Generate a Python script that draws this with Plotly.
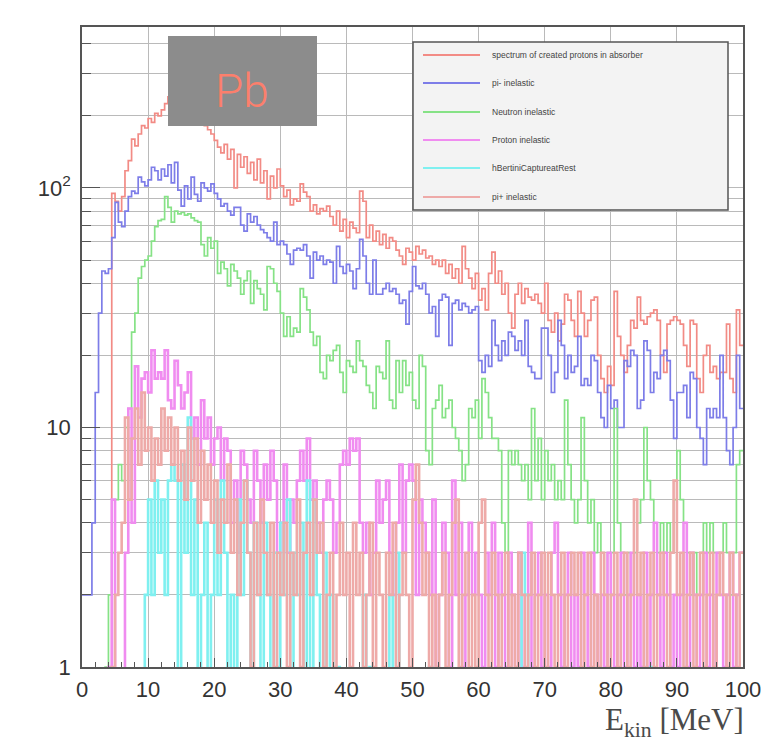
import plotly.graph_objects as go

# ---------------- data (0.5 MeV bins, 0..100 MeV) ----------------
BIN_WIDTH = 0.5
N_BINS = 200

series_names = [
    "spectrum of created protons in absorber",
    "pi- inelastic",
    "Neutron inelastic",
    "Proton inelastic",
    "hBertiniCaptureatRest",
    "pi+ inelastic",
]

spectrum_total = [
    0, 0, 0, 0, 0, 0, 0, 0, 0, 95,
    88, 80, 92, 118, 130, 160, 150, 168, 182, 178,
    195, 188, 205, 200, 212, 225, 240, 250, 262, 275,
    258, 280, 245, 265, 230, 215, 190, 182, 175, 168,
    158, 148, 140, 152, 132, 145, 100, 138, 122, 135,
    115, 128, 108, 132, 105, 118, 90, 112, 100, 120,
    102, 92, 98, 85, 90, 88, 104, 96, 92, 80,
    85, 78, 82, 80, 84, 76, 70, 80, 66, 74,
    62, 72, 68, 65, 97, 88, 62, 70, 60, 66,
    58, 64, 56, 62, 60, 55, 52, 48, 56, 54,
    50, 57, 53, 55, 51, 52, 48, 50, 47, 50,
    44, 48, 42, 46, 40, 57, 46, 42, 38, 44,
    34, 38, 31, 44, 54, 40, 45, 36, 40, 30,
    26, 36, 40, 33, 38, 35, 34, 36, 33, 30,
    40, 28, 25, 30, 23, 27, 36, 34, 28, 24,
    37, 30, 24, 28, 34, 35, 20, 16, 14, 18,
    15, 37, 24, 20, 17, 22, 28, 26, 35, 28,
    27, 29, 30, 31, 28, 20, 17, 27, 28, 29,
    28, 27, 22, 18, 28, 27, 16, 14, 20, 22,
    17, 18, 16, 17, 17, 27, 16, 14, 31, 22,
]

pim_inelastic = [
    2, 2, 2, 4, 14, 30, 45, 44, 46, 62,
    87, 72, 69, 80, 92, 97, 95, 111, 106, 102,
    108, 122, 118, 108, 120, 112, 125, 105, 128, 98,
    84, 102, 90, 111, 94, 88, 105, 100, 97, 104,
    95, 90, 84, 86, 80, 77, 83, 83, 70, 66,
    78, 72, 76, 70, 67, 65, 62, 60, 72, 58,
    60, 58, 53, 48, 55, 56, 55, 58, 52, 42,
    54, 50, 52, 48, 50, 49, 40, 57, 47, 44,
    48, 45, 38, 46, 61, 52, 40, 36, 50, 36,
    36, 38, 40, 37, 38, 36, 33, 34, 27, 37,
    47, 39, 38, 40, 36, 30, 32, 24, 34, 36,
    35, 22, 33, 34, 31, 33, 32, 30, 31, 32,
    19, 17, 20, 18, 28, 22, 19, 23, 20, 25,
    24, 21, 23, 20, 28, 18, 17, 16, 16, 26,
    26, 20, 14, 17, 28, 22, 16, 20, 17, 18,
    24, 15, 16, 15, 20, 19, 14, 11, 10, 15,
    12, 13, 10, 10, 19, 18, 21, 20, 12, 13,
    23, 21, 14, 17, 16, 20, 21, 19, 13, 9,
    14, 14, 15, 11, 17, 16, 10, 9, 7, 12,
    11, 12, 11, 20, 11, 8, 7, 10, 20, 12,
]

neutron_inelastic = [
    0, 0, 0, 0, 0, 0, 0, 1, 2, 3,
    5, 7, 6, 10, 12, 25, 30, 42, 47, 50,
    52, 60, 69, 73, 74, 92, 83, 72, 80, 78,
    79, 77, 78, 75, 73, 72, 58, 52, 62, 56,
    60, 44, 49, 46, 39, 48, 45, 42, 36, 41,
    45, 33, 41, 38, 36, 31, 47, 46, 40, 37,
    30, 24, 29, 24, 26, 25, 38, 35, 31, 25,
    22, 24, 17, 16, 20, 19, 21, 22, 17, 14,
    19, 18, 17, 23, 19, 18, 15, 14, 12, 18,
    17, 16, 23, 13, 12, 19, 14, 19, 15, 17,
    13, 12, 20, 18, 8, 7, 12, 13, 15, 11,
    12, 13, 10, 9, 8, 6, 7, 12, 11, 13,
    9, 16, 14, 11, 9, 9, 8, 4, 3, 8,
    7, 8, 7, 6, 7, 5, 12, 6, 9, 5,
    8, 6, 7, 5, 6, 5, 13, 7, 5, 4,
    5, 11, 6, 4, 5, 3, 4, 3, 2, 3,
    3, 12, 4, 3, 2, 3, 2, 3, 4, 5,
    10, 6, 5, 4, 3, 4, 3, 4, 3, 5,
    8, 5, 4, 3, 2, 3, 2, 3, 4, 3,
    4, 3, 3, 3, 4, 3, 2, 3, 7, 8,
]

proton_inelastic = [
    0, 0, 0, 0, 0, 0, 0, 0, 1, 5,
    0, 0, 0, 3, 12, 4, 18, 11, 16, 17,
    14, 21, 16, 17, 16, 21, 13, 12, 19, 15,
    12, 14, 17, 9, 11, 7, 13, 9, 11, 7,
    9, 10, 6, 9, 8, 4, 6, 3, 8, 7,
    5, 4, 8, 6, 4, 7, 5, 8, 6, 3,
    4, 7, 3, 5, 4, 6, 8, 6, 9, 5,
    6, 4, 3, 5, 6, 5, 3, 4, 7, 8,
    7, 9, 8, 9, 4, 3, 4, 2, 3, 6,
    4, 5, 6, 3, 2, 4, 7, 3, 6, 7,
    6, 2, 5, 4, 3, 2, 5, 1, 2, 4,
    3, 1, 6, 2, 4, 1, 2, 4, 2, 3,
    2, 1, 3, 2, 4, 1, 3, 2, 1, 3,
    2, 1, 3, 1, 2, 4, 1, 2, 3, 1,
    2, 1, 3, 4, 2, 1, 2, 3, 1, 2,
    1, 3, 2, 1, 3, 2, 1, 2, 1, 3,
    2, 1, 2, 3, 1, 2, 3, 1, 2, 1,
    3, 1, 2, 4, 2, 1, 3, 2, 1, 2,
    1, 2, 4, 1, 3, 2, 1, 2, 3, 1,
    2, 1, 3, 2, 1, 2, 3, 1, 2, 3,
]

bertini_capture = [
    0, 0, 0, 0, 0, 0, 0, 0, 0, 0,
    0, 0, 0, 0, 0, 0, 0, 0, 0, 2,
    5, 2, 6, 3, 5, 2, 6, 7, 6, 0,
    7, 3, 11, 2, 5, 0, 2, 4, 0, 2,
    5, 2, 6, 3, 0, 2, 0, 5, 2, 6,
    3, 0, 4, 2, 0, 4, 2, 0, 3, 1,
    4, 2, 5, 0, 3, 2, 4, 0, 6, 0,
    5, 2, 0, 3, 0, 2, 0, 1, 0, 0,
    0, 0, 0, 0, 0, 2, 0, 1, 0, 0,
    0, 0, 0, 2, 0, 3, 0, 0, 0, 0,
    0, 0, 0, 0, 0, 1, 0, 0, 0, 0,
    0, 0, 0, 0, 0, 0, 0, 0, 0, 0,
    0, 0, 0, 0, 0, 0, 0, 0, 0, 0,
    0, 0, 0, 3, 2, 0, 0, 0, 0, 0,
    0, 0, 0, 0, 0, 0, 0, 0, 0, 0,
    0, 0, 0, 0, 0, 0, 0, 0, 0, 0,
    0, 0, 0, 0, 0, 0, 0, 0, 0, 0,
    0, 0, 1, 0, 0, 0, 0, 0, 0, 0,
    0, 0, 0, 0, 0, 0, 0, 0, 0, 0,
    0, 0, 0, 0, 0, 0, 0, 0, 0, 0,
]

pip_inelastic = [
    0, 0, 0, 0, 0, 0, 0, 0, 0, 1,
    2, 3, 4, 11, 5, 9, 12, 7, 14, 8,
    10, 6, 9, 7, 12, 8, 11, 7, 10, 6,
    8, 5, 10, 6, 9, 4, 8, 5, 7, 4,
    6, 3, 5, 4, 7, 3, 5, 2, 4, 6,
    3, 1, 4, 2, 5, 3, 2, 4, 1, 3,
    2, 4, 1, 3, 2, 5, 1, 3, 4, 2,
    5, 3, 4, 1, 2, 3, 1, 2, 4, 2,
    3, 1, 4, 2, 3, 1, 2, 4, 1, 3,
    2, 1, 3, 2, 4, 1, 2, 3, 2, 1,
    5, 7, 4, 2, 3, 1, 2, 1, 2, 3,
    1, 2, 4, 5, 1, 2, 3, 1, 2, 1,
    4, 5, 2, 1, 3, 2, 1, 2, 3, 1,
    2, 1, 3, 2, 1, 2, 3, 1, 2, 3,
    1, 3, 2, 1, 2, 3, 1, 2, 3, 2,
    3, 1, 2, 3, 1, 2, 1, 3, 2, 1,
    2, 3, 1, 2, 3, 1, 2, 5, 2, 3,
    1, 2, 3, 1, 2, 3, 2, 1, 3, 6,
    2, 3, 1, 2, 3, 1, 2, 3, 1, 2,
    3, 1, 2, 3, 2, 1, 3, 2, 1, 3,
]

x_tick_vals = [0, 10, 20, 30, 40, 50, 60, 70, 80, 90, 100]
y_major_vals = [1, 10, 100]
y_major_text = ["1", "10", "10<sup>2</sup>"]
y_minor_vals = [2, 3, 4, 5, 6, 7, 8, 9, 20, 30, 40, 50, 60, 70, 80, 90, 200, 300, 400]

colors = ["#f28b85", "#7d7de8", "#86e286", "#f08cf0", "#7ff0f0", "#eeaaa8"]
widths = [1.7, 1.7, 1.7, 2.6, 2.6, 2.6]
all_series = [spectrum_total, pim_inelastic, neutron_inelastic,
              proton_inelastic, bertini_capture, pip_inelastic]

# ---------------- geometry (reference page pixels) ----------------
PAGE_W, PAGE_H = 780, 743
BODY = 8                      # browser default body margin
L, R, T, B = 82, 743, 27, 667  # plot area on the page


def px_x(p):
    return (p - L) / (R - L)


def px_y(p):
    return (B - p) / (B - T)


edges = [i * BIN_WIDTH for i in range(N_BINS + 1)]

fig = go.Figure()
for name, vals, col, w in zip(series_names, all_series, colors, widths):
    yv = [v if v > 0 else 0.05 for v in vals]
    yv = yv + [yv[-1]]
    fig.add_trace(go.Scatter(
        x=edges, y=yv, mode="lines", name=name,
        line=dict(color=col, width=w, shape="hv"),
        showlegend=False, hoverinfo="skip",
    ))

axis_font = dict(family="Liberation Sans, Arial, sans-serif", size=22, color="#333333")
GRID = "#bababa"

fig.update_layout(
    width=PAGE_W - BODY, height=PAGE_H - BODY,
    margin=dict(l=L - BODY, r=PAGE_W - R, t=T - BODY, b=PAGE_H - B, autoexpand=False),
    paper_bgcolor="white", plot_bgcolor="white",
    showlegend=False,
    xaxis=dict(
        range=[0, 100], tickvals=x_tick_vals, ticktext=[str(v) for v in x_tick_vals],
        ticks="inside", ticklen=9, tickcolor="#555555", tickwidth=1,
        showgrid=True, gridcolor=GRID, gridwidth=1.2,
        showline=True, linecolor="#555555", linewidth=1.5, mirror=True,
        minor=dict(dtick=2, ticks="inside", ticklen=5, tickcolor="#555555", showgrid=False),
        tickfont=axis_font, zeroline=False, ticklabelstandoff=2,
    ),
    yaxis=dict(
        type="log", range=[0, 2.672],
        tickvals=y_major_vals, ticktext=y_major_text,
        ticks="inside", ticklen=18, tickcolor="#555555", tickwidth=1,
        showgrid=True, gridcolor=GRID, gridwidth=1.2,
        showline=True, linecolor="#555555", linewidth=1.5, mirror=True,
        minor=dict(tickvals=y_minor_vals, ticks="inside", ticklen=9,
                   tickcolor="#555555", showgrid=True, gridcolor=GRID, gridwidth=1.2),
        tickfont=axis_font, zeroline=False, ticklabelstandoff=5,
    ),
)

shapes = []
annotations = []

# Pb label box
shapes.append(dict(type="rect", xref="paper", yref="paper",
                   x0=px_x(168), x1=px_x(317), y0=px_y(126), y1=px_y(36),
                   fillcolor="#8c8c8c", line=dict(width=0), layer="above"))
annotations.append(dict(xref="paper", yref="paper", x=px_x(242), y=px_y(91),
                        text="Pb", showarrow=False, xanchor="center", yanchor="middle",
                        font=dict(family="Roboto, Lato, sans-serif", size=46,
                                  color="#fc7f6c", weight=300)))

# legend box
shapes.append(dict(type="rect", xref="paper", yref="paper",
                   x0=px_x(413), x1=px_x(728), y0=px_y(210), y1=px_y(42),
                   fillcolor="#f3f3f3", line=dict(color="#555555", width=1.5), layer="above"))
legend_y = [55, 83, 112, 140, 168, 197]
for name, col, ly in zip(series_names, colors, legend_y):
    shapes.append(dict(type="line", xref="paper", yref="paper",
                       x0=px_x(423), x1=px_x(480), y0=px_y(ly), y1=px_y(ly),
                       line=dict(color=col, width=1.8), layer="above"))
    annotations.append(dict(xref="paper", yref="paper", x=px_x(490), y=px_y(ly),
                            text=name, showarrow=False, xanchor="left", yanchor="middle",
                            font=dict(family="Liberation Sans, Arial, sans-serif", size=8.5,
                                      color="#444444")))

# x axis title
annotations.append(dict(xref="paper", yref="paper", x=px_x(746), y=px_y(722),
                        text="E<sub>kin</sub> [MeV]", showarrow=False,
                        xanchor="right", yanchor="middle",
                        font=dict(family="Liberation Serif, Times New Roman, serif",
                                  size=31, color="#4a4a4a")))
# cropped title remnant at the very top edge (as in the reference)
annotations.append(dict(xref="paper", yref="paper", x=px_x(782), y=px_y(13),
                        text="E<sub>kin</sub> [MeV]", showarrow=False,
                        xanchor="right", yanchor="bottom",
                        font=dict(family="Liberation Serif, Times New Roman, serif",
                                  size=26, color="#4a4a4a")))

fig.update_layout(shapes=shapes, annotations=annotations)
fig.write_html("out.html")
